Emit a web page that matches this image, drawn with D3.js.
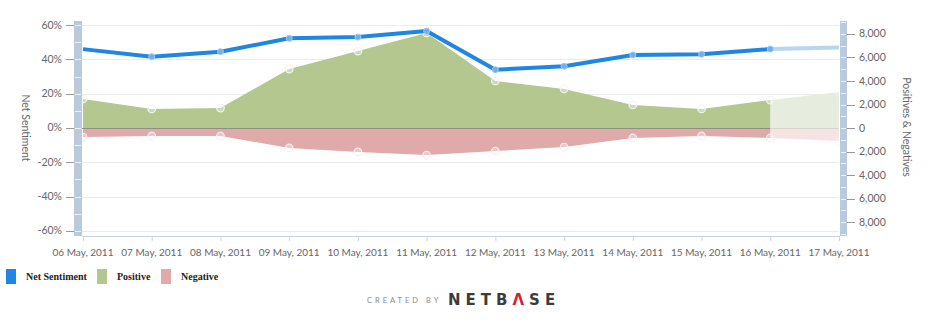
<!DOCTYPE html>
<html>
<head>
<meta charset="utf-8">
<script src="https://cdn.jsdelivr.net/npm/d3@7"></script>
<style>
  html, body { margin: 0; padding: 0; background: #fff; }
  svg { display: block; }
</style>
</head>
<body>
<svg id="chart" width="933" height="323"></svg>
<script>
// Daily sentiment figures
const dates = ["06 May, 2011", "07 May, 2011", "08 May, 2011", "09 May, 2011", "10 May, 2011", "11 May, 2011",
               "12 May, 2011", "13 May, 2011", "14 May, 2011", "15 May, 2011", "16 May, 2011", "17 May, 2011"];
const netSentiment = [46, 41.6, 44.5, 52.3, 53, 56.5, 34, 36, 42.6, 43, 46, 47];
const positives = [2470, 1620, 1700, 5020, 6550, 8085, 4000, 3320, 1960, 1620, 2380, 3060];
const negatives = [770, 680, 680, 1700, 2040, 2300, 1960, 1620, 850, 680, 850, 1100];
const pctTicks = [-60, -40, -20, 0, 20, 40, 60];
const countTicks = [-8000, -6000, -4000, -2000, 0, 2000, 4000, 6000, 8000];
const legendItems = ["Net Sentiment", "Positive", "Negative"];

const C = {
  blue: "#1f87e3", blueLight: "#b6d6f2",
  green: "#b4c78e", greenLight: "#e7edde",
  red: "#e0a9aa", redLight: "#f6e3e4",
  bar: "#b9cadd", grid: "#ebebeb", zero: "#8e9080", text: "#666"
};
const FONT = "Lato, sans-serif";

const svg = d3.select("#chart");
const plot = { left: 82, right: 840, top: 21, bottom: 236 };
const last = dates.length - 1;

const x = d3.scalePoint().domain(dates).range([83, 839]);
const yPct = d3.scaleLinear().domain([-63, 62.4]).range([plot.bottom, plot.top]);
const yCnt = d3.scaleLinear().domain([-9190, 9106]).range([plot.bottom, plot.top]);

const rows = dates.map((d, i) => ({ d, i, net: netSentiment[i], pos: positives[i], neg: negatives[i] }));
const solid = rows.slice(0, last);
const tail = rows.slice(last - 1);

// gridlines
svg.append("g").selectAll("line").data(pctTicks).join("line")
  .attr("x1", plot.left).attr("x2", plot.right - 1)
  .attr("y1", d => Math.round(yPct(d)) + 0.5).attr("y2", d => Math.round(yPct(d)) + 0.5)
  .attr("stroke", C.grid).attr("stroke-width", 1);

// positive / negative areas
const posArea = d3.area().x(d => x(d.d)).y0(yCnt(0)).y1(d => yCnt(d.pos));
const negArea = d3.area().x(d => x(d.d)).y0(yCnt(0)).y1(d => yCnt(-d.neg));
svg.append("path").datum(tail).attr("d", posArea).attr("fill", C.greenLight);
svg.append("path").datum(tail).attr("d", negArea).attr("fill", C.redLight);
svg.append("path").datum(solid).attr("d", posArea).attr("fill", C.green);
svg.append("path").datum(solid).attr("d", negArea).attr("fill", C.red);

// zero line
svg.append("line").attr("x1", plot.left).attr("x2", x(dates[last - 1]))
  .attr("y1", yCnt(0) + 0.5).attr("y2", yCnt(0) + 0.5).attr("stroke", C.zero).attr("stroke-width", 1);
svg.append("line").attr("x1", x(dates[last - 1])).attr("x2", plot.right - 1)
  .attr("y1", yCnt(0) + 0.5).attr("y2", yCnt(0) + 0.5).attr("stroke", "#d4d5cc").attr("stroke-width", 1);

// markers on the areas
const areaMarks = svg.append("g");
rows.forEach(r => {
  const op = r.i === last ? 0.4 : 1;
  areaMarks.append("circle").attr("cx", x(r.d)).attr("cy", yCnt(r.pos)).attr("r", 3.8)
    .attr("fill", "rgba(255,255,255,0.35)").attr("stroke", "#f4f4f0").attr("stroke-width", 1.2).attr("opacity", op);
  areaMarks.append("circle").attr("cx", x(r.d)).attr("cy", yCnt(-r.neg)).attr("r", 3.8)
    .attr("fill", "rgba(255,255,255,0.35)").attr("stroke", "#f7eeee").attr("stroke-width", 1.2).attr("opacity", op);
});

// net sentiment line
const line = d3.line().x(d => x(d.d)).y(d => yPct(d.net));
svg.append("path").datum(tail).attr("d", line).attr("fill", "none")
  .attr("stroke", C.blueLight).attr("stroke-width", 4);
svg.append("path").datum(solid).attr("d", line).attr("fill", "none")
  .attr("stroke", C.blue).attr("stroke-width", 4).attr("stroke-linejoin", "round");
svg.append("g").selectAll("circle").data(rows.slice(1, last)).join("circle")
  .attr("cx", d => x(d.d)).attr("cy", d => yPct(d.net)).attr("r", 3)
  .attr("fill", "#6fb0ec").attr("stroke", "#9ccaf3").attr("stroke-width", 1);

// x axis
svg.append("line").attr("x1", plot.left).attr("x2", plot.right)
  .attr("y1", plot.bottom + 0.5).attr("y2", plot.bottom + 0.5).attr("stroke", "#c9d3df");
svg.append("g").selectAll("line").data(dates).join("line")
  .attr("x1", d => x(d) + 0.5).attr("x2", d => x(d) + 0.5)
  .attr("y1", plot.bottom).attr("y2", plot.bottom + 5).attr("stroke", "#c9d3df");
svg.append("g").selectAll("text").data(dates).join("text")
  .attr("x", d => x(d)).attr("y", 256).attr("text-anchor", "middle")
  .attr("font-family", FONT).attr("font-size", 10).attr("fill", C.text)
  .text(d => d);

// side bars with minor tick gaps
function sideBar(x0, w, scale, step, lo, hi) {
  const g = svg.append("g");
  g.append("rect").attr("x", x0).attr("y", plot.top).attr("width", w)
    .attr("height", plot.bottom - plot.top).attr("fill", C.bar);
  g.selectAll("line").data(d3.range(lo, hi + step / 2, step)).join("line")
    .attr("x1", x0 + 1).attr("x2", x0 + w - 1)
    .attr("y1", d => Math.round(scale(d)) + 0.5).attr("y2", d => Math.round(scale(d)) + 0.5)
    .attr("stroke", "#eef3f8").attr("stroke-width", 1);
}
sideBar(74, 8, yPct, 10, -60, 60);
sideBar(840, 7, yCnt, 1000, -9000, 9000);

// left axis
const leftAxis = svg.append("g");
leftAxis.selectAll("line").data(pctTicks).join("line")
  .attr("x1", 66).attr("x2", 74)
  .attr("y1", d => Math.round(yPct(d)) + 0.5).attr("y2", d => Math.round(yPct(d)) + 0.5)
  .attr("stroke", "#9a9a9a");
leftAxis.selectAll("text").data(pctTicks).join("text")
  .attr("x", 62).attr("y", d => yPct(d) + 3.5).attr("text-anchor", "end")
  .attr("font-family", FONT).attr("font-size", 10.5).attr("fill", C.text)
  .text(d => d + "%");
svg.append("text").attr("transform", "translate(22,128) rotate(90)").attr("text-anchor", "middle")
  .attr("font-family", FONT).attr("font-size", 10.5).attr("fill", C.text)
  .text("Net Sentiment");

// right axis
const rightAxis = svg.append("g");
rightAxis.selectAll("line").data(countTicks).join("line")
  .attr("x1", 847).attr("x2", 855)
  .attr("y1", d => Math.round(yCnt(d)) + 0.5).attr("y2", d => Math.round(yCnt(d)) + 0.5)
  .attr("stroke", "#9a9a9a");
rightAxis.selectAll("text").data(countTicks).join("text")
  .attr("x", 859).attr("y", d => yCnt(d) + 3.5)
  .attr("font-family", FONT).attr("font-size", 10.5).attr("fill", C.text)
  .text(d => d3.format(",")(Math.abs(d)));
svg.append("text").attr("transform", "translate(903,127) rotate(90)").attr("text-anchor", "middle")
  .attr("font-family", FONT).attr("font-size", 10.5).attr("fill", C.text)
  .text("Positives & Negatives");

// legend
const legendColors = [C.blue, C.green, C.red];
const legendX = [6, 97, 161];
const legend = svg.append("g");
legendItems.forEach((name, i) => {
  legend.append("rect").attr("x", legendX[i]).attr("y", 269).attr("width", 10).attr("height", 15)
    .attr("fill", legendColors[i]);
  legend.append("text").attr("x", legendX[i] + 20).attr("y", 280)
    .attr("font-family", "'Liberation Serif', 'Times New Roman', serif").attr("font-weight", "bold")
    .attr("font-size", 10).attr("fill", "#222").text(name);
});

// footer credit
svg.append("text").attr("x", 367).attr("y", 303)
  .attr("font-family", FONT).attr("font-size", 7.5).attr("letter-spacing", 3)
  .attr("fill", "#8a8a8a").text("CREATED BY");
const logo = svg.append("text").attr("x", 448).attr("y", 305)
  .attr("font-family", "'DejaVu Sans', sans-serif").attr("font-size", 15).attr("font-weight", "bold")
  .attr("letter-spacing", 5).attr("fill", "#3c3c3c");
logo.append("tspan").text("NETB");
logo.append("tspan").attr("fill", "#d0232f").text("Λ");
logo.append("tspan").text("SE");
</script>
</body>
</html>
